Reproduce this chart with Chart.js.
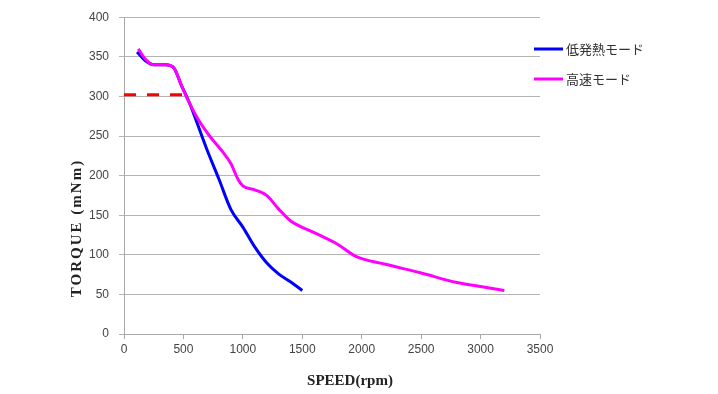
<!DOCTYPE html>
<html>
<head>
<meta charset="utf-8">
<script src="https://cdn.jsdelivr.net/npm/chart.js@4.4.0/dist/chart.umd.min.js"></script>
<style>
  html, body { margin: 0; padding: 0; background: #fff; }
  #wrap { width: 718px; height: 394px; }
</style>
</head>
<body>
<div id="wrap"><canvas id="myChart" width="718" height="394"></canvas></div>
<script>
// courbes : [vitesse rpm, couple mNm]
const lowHeatMode = [[110,356],[180,345],[250,340],[350,340],[420,336],[480,315],[550,292],[700,232],[800,195],[900,157],[1000,135],[1100,110],[1200,90],[1300,76],[1400,66],[1500,55]];
const highSpeedMode = [[120,360],[180,347],[250,340],[350,340],[420,336],[480,315],[540,295],[620,272],[720,250],[820,232],[900,215],[960,195],[1000,187],[1100,182],[1200,175],[1300,158],[1400,143],[1600,128],[1800,113],[1950,98],[2200,88],[2500,77],[2800,65],[3000,60],[3200,55]];
const limitLine = [[0,302],[525,302]];
const seriesNames = ['低発熱モード', '高速モード'];
const xTicks = [0, 500, 1000, 1500, 2000, 2500, 3000, 3500];
const yTicks = [0, 50, 100, 150, 200, 250, 300, 350, 400];

const toPts = arr => arr.map(p => ({x: p[0], y: p[1]}));

const titlesAndLegend = { /* titres d'axes + légende dessinés à la main */
  id: 'titlesAndLegend',
  afterDraw(chart) {
    const c = chart.ctx;
    c.save();
    c.fillStyle = '#222';
    c.font = 'bold 15px "Liberation Serif"';
    c.textAlign = 'center';
    c.textBaseline = 'middle';
    c.fillText('SPEED(rpm)', 350, 381);
    c.translate(77, 228);
    c.rotate(-Math.PI / 2);
    c.letterSpacing = '2px';
    c.fillText('TORQUE (mNm)', 0, 0);
    c.restore();

    c.save();
    const cols = ['#0000ff', '#ff00ff'];
    const ys = [49, 79];
    c.font = '13px "Noto Sans CJK JP"';
    c.textBaseline = 'middle';
    c.fillStyle = '#333';
    seriesNames.forEach((n, i) => {
      c.strokeStyle = cols[i];
      c.lineWidth = 3;
      c.beginPath();
      c.moveTo(534, ys[i]);
      c.lineTo(563, ys[i]);
      c.stroke();
      c.fillText(n, 566, ys[i]);
    });
    c.restore();
  }
};

const ctx = document.getElementById('myChart').getContext('2d');
new Chart(ctx, {
  type: 'scatter',
  data: {
    datasets: [
      { label: seriesNames[0], data: toPts(lowHeatMode), showLine: true, borderColor: '#0000ff', borderWidth: 3, pointRadius: 0, cubicInterpolationMode: 'monotone', order: 2 },
      { label: seriesNames[1], data: toPts(highSpeedMode), showLine: true, borderColor: '#ff00ff', borderWidth: 3, pointRadius: 0, cubicInterpolationMode: 'monotone', order: 1 },
      { label: 'limit', data: toPts(limitLine), showLine: true, borderColor: '#ff0000', borderWidth: 3, borderDash: [12, 11], pointRadius: 0, order: 3 }
    ]
  },
  options: {
    responsive: false,
    animation: false,
    layout: { padding: { left: 0, right: 178, top: 14, bottom: 0 } },
    plugins: { legend: { display: false }, tooltip: { enabled: false } },
    scales: {
      x: {
        type: 'linear', min: 0, max: 3500,
        afterBuildTicks: s => { s.ticks = xTicks.map(v => ({value: v})); },
        afterFit: s => { s.height = 60; },
        grid: { drawOnChartArea: false, color: '#a8a8a8', tickLength: 5 },
        border: { color: '#a8a8a8' },
        ticks: { color: '#444', font: { family: 'Liberation Sans', size: 12 }, padding: 3, maxRotation: 0, callback: v => String(v) }
      },
      y: {
        min: 0, max: 400,
        afterBuildTicks: s => { s.ticks = yTicks.map(v => ({value: v})); },
        afterFit: s => { s.width = 124; },
        grid: { color: '#b4b4b4', tickLength: 5 },
        border: { color: '#a8a8a8' },
        ticks: { color: '#444', font: { family: 'Liberation Sans', size: 12 }, padding: 10, callback: v => String(v) }
      }
    }
  },
  plugins: [titlesAndLegend]
});
</script>
</body>
</html>
